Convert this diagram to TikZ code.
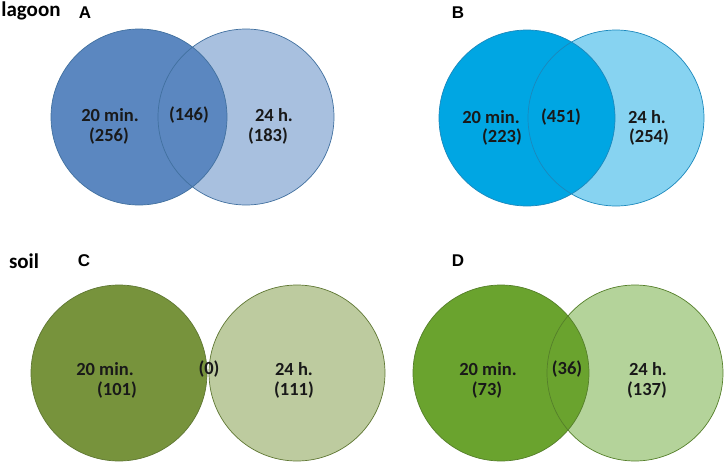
\documentclass[tikz,border=0pt]{standalone}
\usepackage{fontspec}
\setmainfont{Carlito}
\newfontfamily\panelfont{Liberation Sans}

\definecolor{lagoonDark}{HTML}{5B87C0}
\definecolor{lagoonLight}{HTML}{A8C0DF}
\definecolor{lagoonLine}{HTML}{41709F}
\definecolor{lagoonBDark}{HTML}{00A6E3}
\definecolor{lagoonBLight}{HTML}{87D3F1}
\definecolor{lagoonBLine}{HTML}{1B88BC}
\definecolor{soilDark}{HTML}{77933C}
\definecolor{soilLight}{HTML}{BDCB9F}
\definecolor{soilLine}{HTML}{5F7733}
\definecolor{soilDDark}{HTML}{6AA32E}
\definecolor{soilDLight}{HTML}{B4D39A}
\definecolor{soilDLine}{HTML}{557F2A}

\tikzset{
  venn/.style={circle, minimum size=176pt, inner sep=0pt, fill=#1},
  rim/.style={draw=#1, line width=0.7pt},
  count/.style={font=\bfseries\fontsize{18.5}{20}\selectfont, text=black!90, inner sep=0pt},
  panel/.style={font=\panelfont\bfseries\fontsize{17}{19}\selectfont, inner sep=0pt},
  site/.style={font=\bfseries\fontsize{21}{24}\selectfont, inner sep=0pt}
}

\begin{document}
\begin{tikzpicture}[x=1pt,y=-1pt]
  \useasboundingbox (0,0) rectangle (724,464);

  % panel A
  \node[venn=lagoonLight] (aR) at (246,117) {};
  \node[venn=lagoonDark] (aL) at (139,117) {};
  \draw[rim=lagoonLine] (aR.center) circle (88);
  \draw[rim=lagoonLine] (aL.center) circle (88);
  \node[site] (lagoon) at (31,11) {lagoon};
  \node[panel] (pA) at (85,13) {A};
  \node[count] (aMin) at (110,115) {20 min.};
  \node[count] (aMinN) at (109,136) {(256)};
  \node[count] (aBoth) at (189,115) {(146)};
  \node[count] (aH) at (274,115) {24 h.};
  \node[count] (aHN) at (268,136) {(183)};

  % panel B
  \node[venn=lagoonBLight] (bR) at (616,118) {};
  \node[venn=lagoonBDark] (bL) at (527,118) {};
  \draw[rim=lagoonBLine] (bR.center) circle (88);
  \draw[rim=lagoonBLine] (bL.center) circle (88);
  \node[panel] (pB) at (458,13) {B};
  \node[count] (bMin) at (491,117) {20 min.};
  \node[count] (bMinN) at (502,137) {(223)};
  \node[count] (bBoth) at (561,117) {(451)};
  \node[count] (bH) at (647,117) {24 h.};
  \node[count] (bHN) at (649,137) {(254)};

  % panel C
  \node[venn=soilLight] (cR) at (297,373) {};
  \node[venn=soilDark] (cL) at (119,373) {};
  \draw[rim=soilLine] (cR.center) circle (88);
  \draw[rim=soilLine] (cL.center) circle (88);
  \node[site] (soil) at (24,261) {soil};
  \node[panel] (pC) at (84,261) {C};
  \node[count] (cMin) at (105,369) {20 min.};
  \node[count] (cMinN) at (117,390) {(101)};
  \node[count] (cBoth) at (209,369) {(0)};
  \node[count] (cH) at (294,369) {24 h.};
  \node[count] (cHN) at (294,390) {(111)};

  % panel D
  \node[venn=soilDLight] (dR) at (635,373) {};
  \node[venn=soilDDark] (dL) at (501,373) {};
  \draw[rim=soilDLine] (dR.center) circle (88);
  \draw[rim=soilDLine] (dL.center) circle (88);
  \node[panel] (pD) at (458,261) {D};
  \node[count] (dMin) at (488,369) {20 min.};
  \node[count] (dMinN) at (487,390) {(73)};
  \node[count] (dBoth) at (567,369) {(36)};
  \node[count] (dH) at (648,369) {24 h.};
  \node[count] (dHN) at (647,390) {(137)};
\end{tikzpicture}
\end{document}
